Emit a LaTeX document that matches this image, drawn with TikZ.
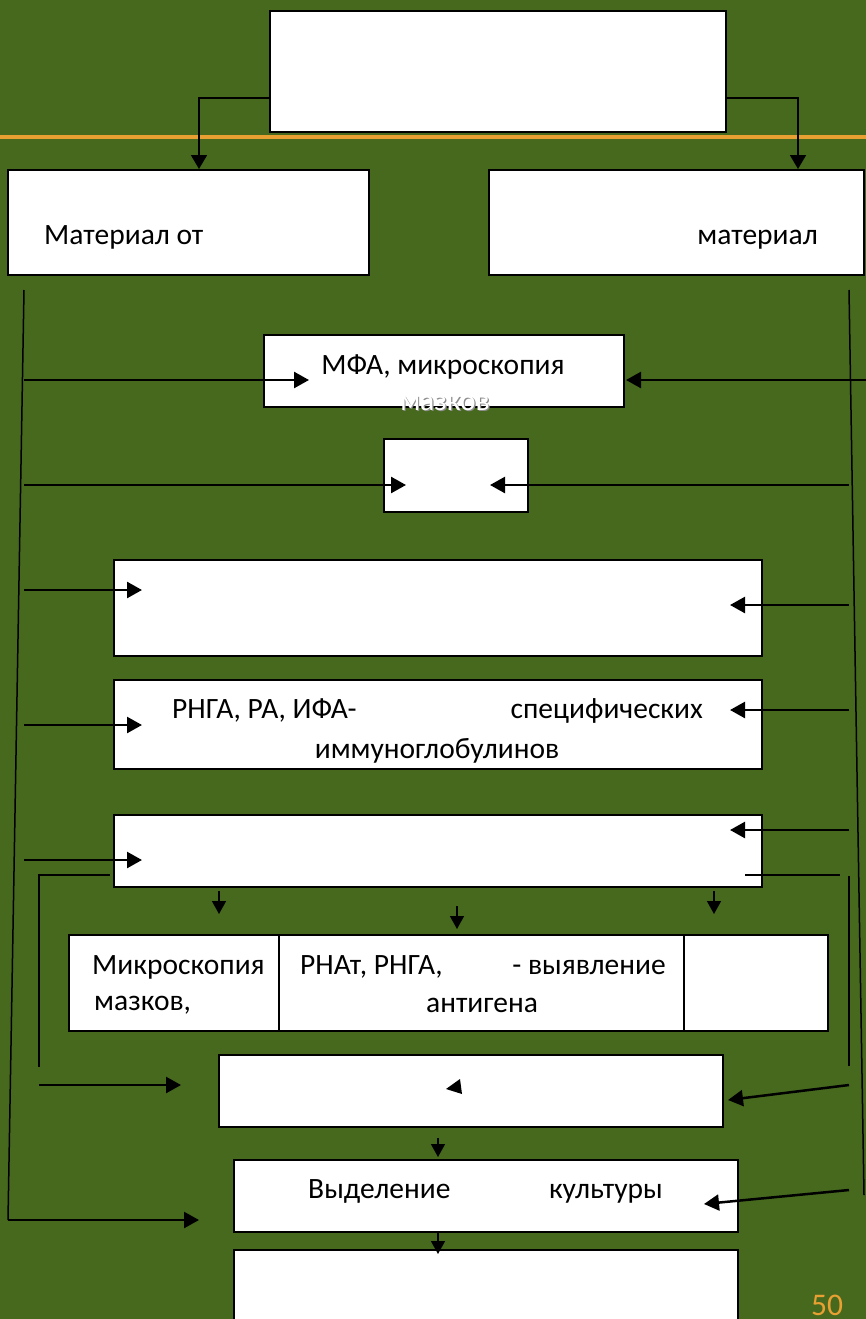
\documentclass[tikz,border=0pt]{standalone}
\usepackage{fontspec}
\setmainfont{Carlito}
\usetikzlibrary{arrows.meta, calc}
\definecolor{slidegreen}{HTML}{46691E}
\definecolor{slideorange}{HTML}{E8A032}
\tikzset{
  box/.style={draw=black, fill=white, line width=2pt, inner sep=0pt},
  txt/.style={font=\fontsize{29.5}{34}\selectfont, inner sep=0pt, yshift=-6pt},
  arrow/.style={-{Triangle[length=15pt, width=16pt]}, line width=2.5pt},
  tick/.style={-{Triangle[length=13pt, width=14pt]}, line width=1.5pt},
  rail/.style={line width=1.5pt},
}

\begin{document}
\begin{tikzpicture}[x=1pt, y=-1pt]
  \useasboundingbox (0,0) rectangle (866,1319);
  \clip (0,0) rectangle (866,1319);
  \fill[slidegreen] (0,0) rectangle (866,1319);
  \draw[slideorange, line width=3pt] (0,137) -- (866,137);

  % boxes
  \node[box, minimum width=456pt, minimum height=121pt] (top) at (498,71.5) {};
  \node[box, minimum width=361pt, minimum height=105pt] (matL) at (188.5,222.5) {};
  \node[box, minimum width=375pt, minimum height=105pt] (matR) at (676.5,222.5) {};
  \node[box, minimum width=360pt, minimum height=72pt] (mfa) at (444,371) {};
  \node[box, minimum width=144pt, minimum height=73pt] (small) at (456,475.5) {};
  \node[box, minimum width=648pt, minimum height=96pt] (b3) at (438,608) {};
  \node[box, minimum width=648pt, minimum height=89pt] (b4) at (438,724.5) {};
  \node[box, minimum width=648pt, minimum height=72pt] (b5) at (438,851) {};
  \node[box, line width=1.6pt, minimum width=210pt, minimum height=96pt] (cellA) at (174,983) {};
  \node[box, line width=1.6pt, minimum width=405pt, minimum height=96pt] (cellB) at (481.5,983) {};
  \node[box, line width=1.6pt, minimum width=144pt, minimum height=96pt] (cellC) at (756,983) {};
  \node[box, minimum width=504pt, minimum height=72pt] (b7) at (471,1091) {};
  \node[box, minimum width=504pt, minimum height=72pt] (b8) at (486,1196) {};
  \node[box, minimum width=504pt, minimum height=80pt] (b9) at (486,1290) {};

  % texts
  \node[txt, anchor=mid west] (tMatL) at (44,236) {Материал от};
  \node[txt, anchor=mid east] (tMatR) at (818,236) {материал};
  \node[txt] (tMfa) at (443,361) {МФА, микроскопия};
  \node[txt, text=black!45] at (446.2,398.2) {мазков};
  \node[txt, text=white] (tMfa2) at (445,397) {мазков};
  \node[txt, anchor=mid west] (tB4a) at (172,710) {РНГА, РА, ИФА-};
  \node[txt, anchor=mid east] (tB4b) at (703,710) {специфических};
  \node[txt] (tB4c) at (437,745) {иммуноглобулинов};
  \node[txt, anchor=mid west] (tCellA1) at (92,966) {Микроскопия};
  \node[txt, anchor=mid west] (tCellA2) at (94,1002) {мазков,};
  \node[txt, anchor=mid west] (tCellB1) at (300,966) {РНАт, РНГА,};
  \node[txt, anchor=mid east] (tCellB2) at (666,966) {- выявление};
  \node[txt] (tCellB3) at (482,999) {антигена};
  \node[txt, anchor=mid west] (tB8a) at (308,1190) {Выделение};
  \node[txt, anchor=mid east] (tB8b) at (663,1190) {культуры};
  \node[font=\fontsize{31.5}{36}\selectfont, inner sep=0pt, anchor=base, text=slideorange] (page) at (827,1315) {50};

  % from the top box
  \draw[arrow, line width=1.8pt, -{Triangle[length=14pt, width=16pt]}] ([yshift=-26.5pt]top.west) -| ([xshift=10.5pt]matL.north);
  \draw[arrow, line width=1.8pt, -{Triangle[length=14pt, width=16pt]}] ([yshift=-26.5pt]top.east) -| ([xshift=121.5pt]matR.north);

  % side rails
  \coordinate (railLa) at (24,290);
  \coordinate (railLb) at (8,1220);
  \coordinate (railRa) at (849,290);
  \coordinate (railRb) at (864,1195);
  \draw[rail] (railLa) -- (railLb);
  \draw[rail] (railRa) -- (railRb);

  \foreach \i/\y/\n/\dx in {1/380/mfa/46, 2/485/small/23, 3/590/b3/29, 4/725/b4/29, 5/860/b5/29} {
    \coordinate (inL\i) at (24,\y);
    \draw[arrow] (inL\i) -- ([xshift=\dx pt]\n.west |- inL\i);
  }
  \foreach \i/\x/\y/\n/\dx in {1/866/380/mfa/1, 2/849/485/small/-39, 3/849/605/b3/-33, 4/849/710/b4/-33, 5/849/830/b5/-33} {
    \coordinate (inR\i) at (\x,\y);
    \draw[arrow] (inR\i) -- ([xshift=\dx pt]\n.east |- inR\i);
  }

  % brackets under b5
  \coordinate (brL) at (110,875);
  \coordinate (brR) at (745,875);
  \draw[rail, line width=2pt] (brL) -- (39,875) -- (39,1067);
  \draw[rail, line width=2pt] (brR) -- (840,875);
  \draw[rail] (849,876) -- (849,1066);
  \coordinate (inL6) at (39,1085);
  \draw[arrow] (inL6) -- ([xshift=-37pt]b7.west |- inL6);
  \draw[arrow] (railLb) -- ([xshift=-34pt]b8.west |- railLb);
  \coordinate (inR6) at (849,1085);
  \coordinate (inR7) at (849,1190);
  \draw[arrow] (inR6) -- ([xshift=4pt, yshift=-9pt]b7.east);
  \draw[arrow] (inR7) -- ([xshift=-35pt, yshift=-8pt]b8.east);

  % small down arrows
  \foreach \dx/\a/\b in {-219/3/26, 19/18/41, 276/3/26}
    \draw[tick] ([xshift=\dx pt, yshift=-\a pt]b5.south) -- ([xshift=\dx pt, yshift=-\b pt]b5.south);
  \draw[tick] ([xshift=-33pt, yshift=-10pt]b7.south) -- ([xshift=-48pt, yshift=2pt]b8.north);
  \draw[tick] ([xshift=-48pt]b8.south) -- ([xshift=-48pt, yshift=-5pt]b9.north);
  \fill (446,1089) -- (460,1079) -- (462,1094) -- cycle;
\end{tikzpicture}
\end{document}
